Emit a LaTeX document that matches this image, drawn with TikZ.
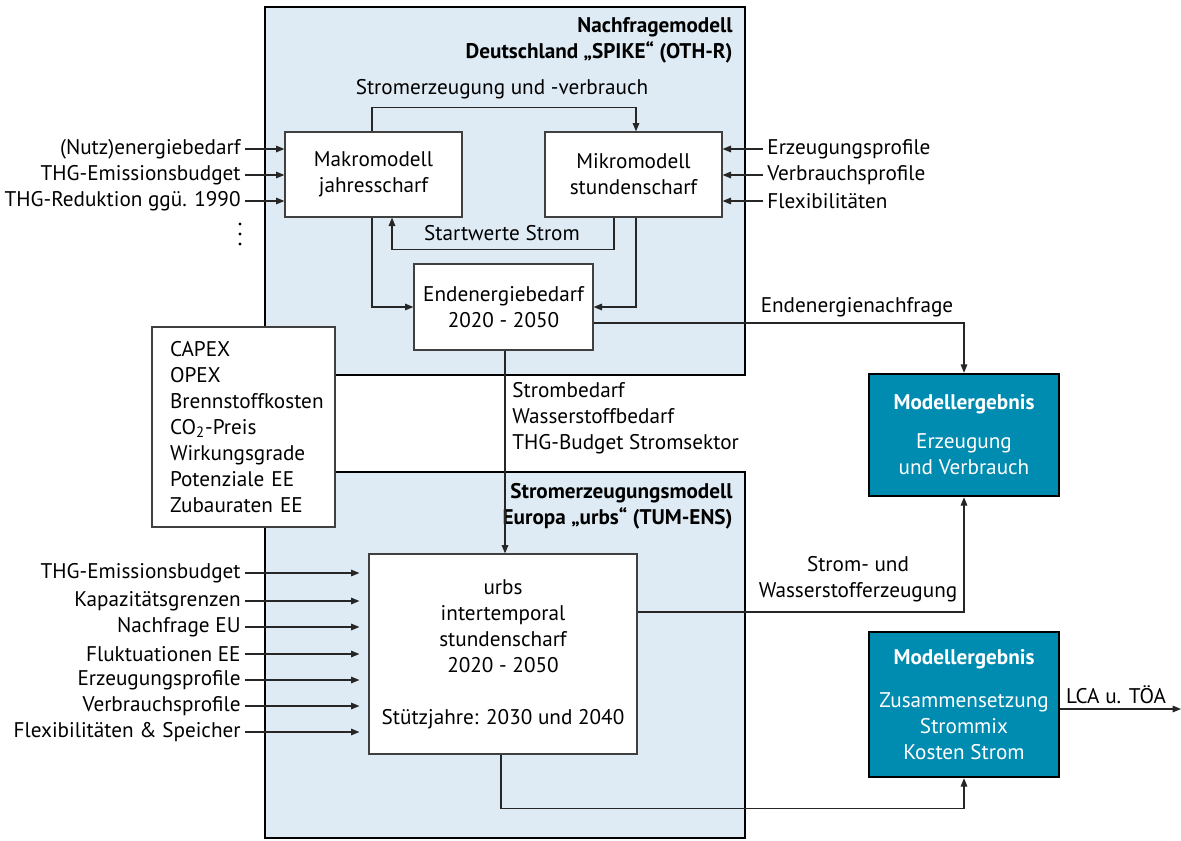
\documentclass[tikz,border=0pt]{standalone}
\usepackage{fontspec}
\setmainfont{PT Sans}
\usetikzlibrary{arrows.meta,calc}
\definecolor{boxblue}{RGB}{222,235,244}
\definecolor{resteal}{RGB}{0,139,176}
\begin{document}
\begin{tikzpicture}[x=0.5pt,y=-0.5pt, font=\fontsize{10.6}{13}\selectfont,
  outer/.style={draw=black,line width=1.2pt,fill=boxblue},
  innerbox/.style={draw=black!75,line width=0.6pt,fill=white,align=center,inner sep=0pt},
  res/.style={draw=black,line width=1.2pt,fill=resteal,text=white,align=center,inner sep=0pt},
  conn/.style={line width=0.6pt,draw=black!85},
  arr/.style={conn,-{Triangle[length=4.2pt,width=3.3pt]}},
  lbl/.style={inner ysep=1pt,inner xsep=2pt},
  ttl/.style={inner sep=0pt,anchor=east,align=right,font=\bfseries\fontsize{10.6}{13}\selectfont}]
\useasboundingbox (0,0) rectangle (1181,840);
% outer model boxes
\node[outer,minimum width=240pt,minimum height=184pt] (nf) at (505,191) {};
\node[outer,minimum width=240pt,minimum height=183pt] (se) at (505,655) {};
\node[ttl] (nft) at (733,40) {Nachfragemodell\\Deutschland „SPIKE“ (OTH-R)};
\node[ttl] (set) at (733,506) {Stromerzeugungsmodell\\Europa „urbs“ (TUM-ENS)};
% inner boxes
\node[innerbox,minimum width=88.5pt,minimum height=42.5pt] (makro) at (373.5,174.5) {Makromodell\\jahresscharf};
\node[innerbox,minimum width=88.5pt,minimum height=42.5pt] (mikro) at (633.5,174.5) {Mikromodell\\stundenscharf};
\node[innerbox,minimum width=89.5pt,minimum height=43pt] (endb) at (503.5,307) {Endenergiebedarf\\2020 - 2050};
\node[innerbox,minimum width=134pt,minimum height=100pt] (urbs) at (503,654) {urbs\\intertemporal\\stundenscharf\\2020 - 2050\\[13pt]Stützjahre: 2030 und 2040};
\node[innerbox,align=left,text width=73.5pt,minimum height=100pt,inner xsep=9pt] (capex) at (243.5,427) {CAPEX\\OPEX\\Brennstoffkosten\\CO\textsubscript{2}-Preis\\Wirkungsgrade\\Potenziale EE\\Zubauraten EE};
% results
\node[res,minimum width=95pt,minimum height=61pt] (me1) at (964,435) {\textbf{Modellergebnis}\\[6.5pt]Erzeugung\\und Verbrauch};
\node[res,minimum width=95pt,minimum height=72.5pt] (me2) at (964,704.5) {\textbf{Modellergebnis}\\[8.5pt]Zusammensetzung\\Strommix\\Kosten Strom};
% internal connectors
\draw[arr] ($(makro.north)+(-1.5,0)$) -- ++(0,-24) -| ($(mikro.north)+(2.5,0)$);
\draw[arr] ($(mikro.south)+(-19.5,0)$) -- ++(0,32) -| ($(makro.south)+(18.5,0)$);
\draw[arr] ($(makro.south)+(-1.5,0)$) |- (endb.west);
\draw[arr] ($(mikro.south)+(2.5,0)$) |- (endb.east);
\draw[arr] ($(endb.east)+(0,16)$) -| (me1.north);
\draw[arr] ($(endb.south)+(1.5,0)$) -- ($(urbs.north)+(2,0)$);
\draw[arr] ($(urbs.east)+(0,-42)$) -| (me1.south);
\draw[arr] ($(urbs.south)+(-2,0)$) -- ++(0,54) -| (me2.south);
\coordinate (lcaend) at (1181,709);
\draw[arr] ($(me2.east)+(0,4.5)$) -- (lcaend);
% connector labels
\node (l1) at (502,89) {Stromerzeugung und -verbrauch};
\node (l2) at (502,233) {Startwerte Strom};
\node (l3) at (857,307) {Endenergienachfrage};
\node[anchor=west,align=left,inner sep=0pt] (l4) at (512,418) {Strombedarf\\Wasserstoffbedarf\\THG-Budget Stromsektor};
\node[align=center] (l5) at (858,579) {Strom- und\\Wasserstofferzeugung};
\node (l6) at (1116,695) {LCA u. TÖA};
% left inputs (Nachfragemodell)
\node[lbl,anchor=east] (a1) at (245,149) {(Nutz)energiebedarf};
\node[lbl,anchor=east] (a2) at (245,175) {THG-Emissionsbudget};
\node[lbl,anchor=east] (a3) at (245,201) {THG-Reduktion ggü. 1990};
\foreach \n in {a1,a2,a3} \draw[arr] (\n.east) -- (\n.east -| makro.west);
\foreach \yy in {224,234,244} \fill (240,\yy) circle (1.6);
% right inputs
\node[lbl,anchor=west] (c1) at (763,149) {Erzeugungsprofile};
\node[lbl,anchor=west] (c2) at (763,175) {Verbrauchsprofile};
\node[lbl,anchor=west] (c3) at (763,201) {Flexibilitäten};
\foreach \n in {c1,c2,c3} \draw[arr] (\n.west) -- (\n.west -| mikro.east);
% lower inputs
\node[lbl,anchor=east] (b1) at (245,573) {THG-Emissionsbudget};
\node[lbl,anchor=east] (b2) at (245,601) {Kapazitätsgrenzen};
\node[lbl,anchor=east] (b3) at (245,627) {Nachfrage EU};
\node[lbl,anchor=east] (b4) at (245,654) {Fluktuationen EE};
\node[lbl,anchor=east] (b5) at (245,680) {Erzeugungsprofile};
\node[lbl,anchor=east] (b6) at (245,706) {Verbrauchsprofile};
\node[lbl,anchor=east] (b7) at (245,732) {Flexibilitäten \& Speicher};
\foreach \n in {b1,b2,b3,b4,b5,b6,b7} \draw[arr,shorten >=4.5pt] (\n.east) -- (\n.east -| urbs.west);
\end{tikzpicture}
\end{document}
